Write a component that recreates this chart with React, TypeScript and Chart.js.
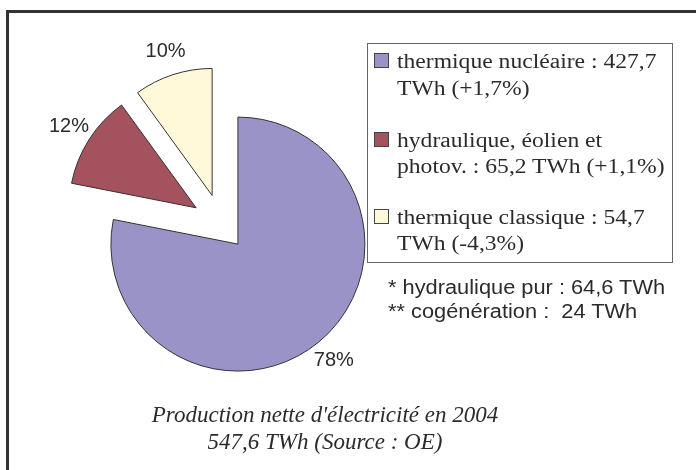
import React, { useEffect, useRef } from "react";
import { Chart, registerables } from "chart.js";

Chart.register(...registerables);

// ---- data ----
const categories = [
  "thermique nucléaire",
  "hydraulique, éolien et photov.",
  "thermique classique",
];
const values = [427.7, 65.2, 54.7];
const legendLines: string[][] = [
  ["thermique nucléaire : 427,7", "TWh (+1,7%)"],
  ["hydraulique, éolien et", "photov. : 65,2 TWh (+1,1%)"],
  ["thermique classique : 54,7", "TWh (-4,3%)"],
];
const footnotes = ["* hydraulique pur : 64,6 TWh", "** cogénération :  24 TWh"];
const titleLines = ["Production nette d'électricité en 2004", "547,6 TWh (Source : OE)"];

// ---- styles ----
const colors = ["#9A93C8", "#A3525E", "#FFF9D9"];
const explode = [26, 30, 30];
const TEXT = "#2b2b2b";
const SERIF = '"Liberation Serif", "Times New Roman", serif';
const SANS = '"Liberation Sans", Arial, sans-serif';

const explodePlugin = {
  id: "explodeDraw",
  beforeDatasetDraw(chart: any, args: any) {
    const ctx = chart.ctx;
    args.meta.data.forEach((arc: any, i: number) => {
      const mid = (arc.startAngle + arc.endAngle) / 2;
      const d = explode[i] || 0;
      ctx.save();
      ctx.translate(Math.cos(mid) * d, Math.sin(mid) * d);
      arc.draw(ctx, chart.chartArea);
      ctx.restore();
    });
    return false;
  },
};

const pctPlugin = {
  id: "pctLabels",
  afterDatasetsDraw(chart: any) {
    const ctx = chart.ctx;
    const meta = chart.getDatasetMeta(0);
    const total = values.reduce((a, b) => a + b, 0);
    ctx.save();
    ctx.font = `20px ${SANS}`;
    ctx.fillStyle = TEXT;
    ctx.textAlign = "center";
    ctx.textBaseline = "middle";
    meta.data.forEach((arc: any, i: number) => {
      const mid = (arc.startAngle + arc.endAngle) / 2;
      const r = arc.outerRadius + (explode[i] || 0) + 24;
      const lx = arc.x + Math.cos(mid) * r;
      const ly = arc.y + Math.sin(mid) * r;
      ctx.fillText(`${Math.round((values[i] / total) * 100)}%`, lx, ly);
    });
    ctx.restore();
  },
};

function Line(props: {
  x: number;
  baseline: number;
  text: string;
  family: string;
  size: number;
  ratio: number;
  scaleX?: number;
  italic?: boolean;
  center?: boolean;
}) {
  const { x, baseline, text, family, size, ratio, scaleX = 1, italic, center } = props;
  return (
    <div
      style={{
        position: "absolute",
        left: x,
        top: baseline - ratio * size,
        fontFamily: family,
        fontSize: size,
        lineHeight: `${size}px`,
        fontStyle: italic ? "italic" : "normal",
        color: TEXT,
        whiteSpace: "pre",
        transformOrigin: "left top",
        transform: center ? `translateX(-50%) scaleX(${scaleX})` : `scaleX(${scaleX})`,
      }}
    >
      {text}
    </div>
  );
}

export default function App() {
  const ref = useRef<HTMLCanvasElement>(null);

  useEffect(() => {
    if (!ref.current) return;
    const chart = new Chart(ref.current, {
      type: "pie",
      data: {
        labels: categories,
        datasets: [
          {
            data: values,
            backgroundColor: colors,
            borderColor: "#333333",
            borderWidth: 1,
            hoverBorderWidth: 1,
            offset: 0,
            hoverOffset: 0,
          },
        ],
      },
      options: {
        animation: false,
        responsive: false,
        maintainAspectRatio: false,
        devicePixelRatio: 1,
        events: [],
        radius: 127,
        layout: { padding: { left: 60, right: 313.2, top: 60, bottom: 82 } },
        plugins: {
          legend: { display: false },
          tooltip: { enabled: false },
          title: { display: false },
        },
      } as any,
      plugins: [explodePlugin, pctPlugin],
    });
    return () => chart.destroy();
  }, []);

  const legendBaselines = [
    [68, 95],
    [147, 173],
    [224, 250],
  ];

  return (
    <div
      style={{
        position: "fixed",
        left: 0,
        top: 0,
        width: 696,
        height: 470,
        overflow: "hidden",
        background: "#ffffff",
      }}
    >
      <div
        style={{
          position: "absolute",
          left: 6,
          top: 10,
          width: 900,
          height: 700,
          borderLeft: "3px solid #333",
          borderTop: "3px solid #333",
        }}
      />
      <canvas
        ref={ref}
        width={696}
        height={470}
        style={{ position: "absolute", left: 0, top: 0, width: 696, height: 470 }}
      />
      <div
        style={{
          position: "absolute",
          left: 367,
          top: 43,
          width: 306,
          height: 220,
          border: "1px solid #666",
          boxSizing: "border-box",
        }}
      />
      {legendLines.map((lines, i) => (
        <React.Fragment key={i}>
          <div
            style={{
              position: "absolute",
              left: 374,
              top: legendBaselines[i][0] - 15,
              width: 15,
              height: 15,
              background: colors[i],
              border: "1px solid #444",
              boxSizing: "border-box",
            }}
          />
          {lines.map((t, j) => (
            <Line
              key={j}
              x={397}
              baseline={legendBaselines[i][j]}
              text={t}
              family={SERIF}
              size={20}
              ratio={0.8375}
              scaleX={1.18}
            />
          ))}
        </React.Fragment>
      ))}
      {footnotes.map((t, j) => (
        <Line
          key={j}
          x={388}
          baseline={294 + j * 24}
          text={t}
          family={SANS}
          size={20}
          ratio={0.8465}
          scaleX={1.09}
        />
      ))}
      {titleLines.map((t, j) => (
        <Line
          key={j}
          x={325}
          baseline={422 + j * 27}
          text={t}
          family={SERIF}
          size={23}
          ratio={0.8375}
          italic
          center
        />
      ))}
    </div>
  );
}
